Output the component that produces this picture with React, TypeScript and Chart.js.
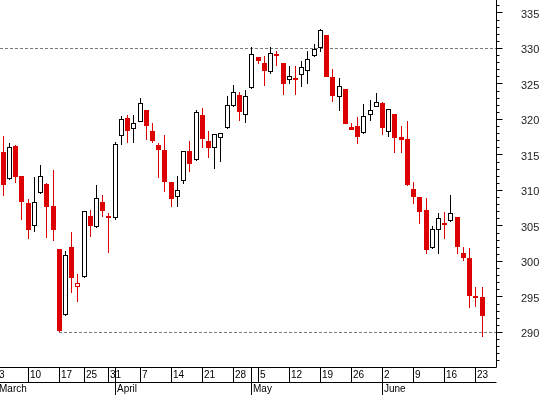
import { useEffect, useRef } from "react";
import { Chart, registerables } from "chart.js";

Chart.register(...registerables);

// ---- data ----
const dates = [
  "2008-03-03", "2008-03-04", "2008-03-05", "2008-03-06", "2008-03-07",
  "2008-03-10", "2008-03-11", "2008-03-12", "2008-03-13", "2008-03-14",
  "2008-03-17", "2008-03-18", "2008-03-19", "2008-03-20",
  "2008-03-25", "2008-03-26", "2008-03-27", "2008-03-28",
  "2008-03-31", "2008-04-01", "2008-04-02", "2008-04-03", "2008-04-04",
  "2008-04-07", "2008-04-08", "2008-04-09", "2008-04-10", "2008-04-11",
  "2008-04-14", "2008-04-15", "2008-04-16", "2008-04-17", "2008-04-18",
  "2008-04-21", "2008-04-22", "2008-04-23", "2008-04-24", "2008-04-25",
  "2008-04-28", "2008-04-29", "2008-04-30", "2008-05-02",
  "2008-05-05", "2008-05-06", "2008-05-07", "2008-05-08", "2008-05-09",
  "2008-05-12", "2008-05-13", "2008-05-14", "2008-05-15", "2008-05-16",
  "2008-05-19", "2008-05-20", "2008-05-21", "2008-05-22", "2008-05-23",
  "2008-05-26", "2008-05-27", "2008-05-28", "2008-05-29", "2008-05-30",
  "2008-06-02", "2008-06-03", "2008-06-04", "2008-06-05", "2008-06-06",
  "2008-06-09", "2008-06-10", "2008-06-11", "2008-06-12", "2008-06-13",
  "2008-06-16", "2008-06-17", "2008-06-18", "2008-06-19", "2008-06-20",
  "2008-06-23", "2008-06-24",
];

const openPrices: (number | null)[] = [
  null,
  315.46, 311.58, 316.27, 312.04, 308.24, 304.96, 309.61, 310.92, 307.82, 301.76,
  292.42, 302.04, 296.37, 297.77, 306.41, 304.82, 308.38, 306.41, 306.17, 317.63,
  320.21, 318.62, 319.65, 321.34, 318.38, 316.41, 315.7, 311.15, 309.08, 311.34,
  315.56, 314.25, 320.63, 316.97, 315.94, 317.39, 318.76, 321.86, 323.45, 320.63,
  324.39, 328.8, 327.96, 326.73, 328.99, 327.96, 325.52, 325.85, 326.23, 326.79,
  328.9, 330.03, 331.9, 326.03, 323.13, 324.3, 318.94, 319.08, 318.06, 320.59,
  321.72, 322.32, 318.2, 320.77, 317.54, 317.25, 310.21, 309.08, 307.25, 301.94,
  304.39, 305.38, 305.66, 306.27, 301.2, 300.49, 295.14, 295.0,
];

const highPrices: (number | null)[] = [
  null,
  317.68, 316.73, 316.41, 312.1, 308.8, 311.9, 313.59, 311.0, 312.89, 301.8,
  301.48, 304.15, 298.24, 307.1, 307.25, 310.77, 309.37, 306.79, 316.79, 320.54,
  320.63, 320.63, 323.03, 321.4, 319.51, 316.65, 317.82, 311.2, 312.04, 315.6,
  316.97, 321.34, 321.66, 318.38, 317.95, 318.15, 323.31, 324.86, 323.87, 324.15,
  330.17, 328.85, 328.94, 330.17, 329.61, 328.0, 327.54, 327.54, 328.24, 329.61,
  330.63, 332.68, 331.95, 327.11, 325.8, 324.35, 319.51, 320.35, 322.18, 322.75,
  323.73, 322.46, 321.5, 320.8, 319.08, 319.79, 311.2, 309.1, 308.94, 305.0,
  306.83, 306.97, 309.37, 306.3, 302.1, 301.9, 296.41, 296.41,
];

const lowPrices: (number | null)[] = [
  null,
  309.27, 311.5, 311.1, 305.85, 303.21, 304.2, 309.5, 303.35, 302.93, 290.0,
  292.3, 295.61, 294.34, 297.7, 303.49, 304.75, 306.31, 301.24, 305.8, 316.45,
  316.73, 316.73, 319.6, 317.11, 316.65, 311.72, 309.75, 307.72, 307.72, 310.96,
  312.65, 314.2, 316.03, 314.62, 312.99, 313.97, 318.7, 321.8, 319.83, 319.46,
  324.3, 327.77, 324.76, 326.45, 327.54, 323.49, 325.04, 323.49, 324.62, 325.04,
  328.85, 329.46, 326.0, 322.51, 321.24, 319.4, 318.5, 316.59, 317.92, 319.83,
  321.7, 317.86, 317.58, 315.32, 315.32, 310.63, 308.14, 305.32, 301.1, 301.8,
  301.1, 303.21, 305.6, 301.1, 300.11, 293.49, 293.59, 289.41,
];

const closePrices: (number | null)[] = [
  null,
  310.82, 316.08, 311.94, 308.42, 304.48, 308.34, 312.0, 307.72, 304.48, 290.2,
  300.87, 297.72, 296.97, 307.07, 305.0, 308.9, 307.15, 306.17, 316.51, 320.07,
  318.42, 319.51, 322.28, 319.13, 317.01, 315.75, 311.24, 308.85, 310.03, 315.52,
  313.77, 321.01, 317.3, 316.03, 317.92, 318.1, 322.0, 323.94, 320.99, 323.27,
  329.23, 328.28, 326.83, 329.32, 329.23, 325.04, 326.08, 325.75, 327.35, 328.48,
  329.89, 332.56, 326.03, 323.35, 324.68, 319.41, 318.56, 317.58, 320.49, 321.3,
  322.42, 318.85, 321.44, 317.44, 317.15, 310.77, 309.13, 307.01, 301.66, 304.54,
  306.08, 305.28, 306.79, 302.08, 300.54, 295.18, 294.9, 292.37,
];

const yTickLabels = [290, 295, 300, 305, 310, 315, 320, 325, 330, 335];
const monthNames = [
  "January", "February", "March", "April", "May", "June",
  "July", "August", "September", "October", "November", "December",
];
const highLevel = 330;
const lowLevel = 290;

// ---- styles ----
const DOWN = "#dd0000";
const UP = "#000000";
const FONT = '"Liberation Sans", Arial, sans-serif';

// ---- derived ----
const validIdx = dates.map((_, i) => i).filter((i) => openPrices[i] != null);

function candleColor(i: number): string {
  const o = openPrices[i] as number;
  const c = closePrices[i] as number;
  if (c < o) return DOWN;
  let p = i - 1;
  while (p >= 0 && closePrices[p] == null) p--;
  if (p >= 0 && c < (closePrices[p] as number)) return DOWN;
  return UP;
}

const parsedDates = dates.map((d) => {
  const [y, m, dd] = d.split("-").map(Number);
  return new Date(y, m - 1, dd);
});

const weekStarts: number[] = [];
const monthStarts: number[] = [];
parsedDates.forEach((d, i) => {
  if (i === 0) {
    weekStarts.push(i);
    monthStarts.push(i);
    return;
  }
  const prev = parsedDates[i - 1];
  if (d.getDay() <= prev.getDay() || d.getTime() - prev.getTime() >= 7 * 86400000) weekStarts.push(i);
  if (d.getMonth() !== prev.getMonth()) monthStarts.push(i);
});

const lowLevelStart = validIdx.find((i) => (lowPrices[i] as number) <= lowLevel + 0.5) ?? validIdx[0];

const snapPlugin = {
  id: "snapCandles",
  afterDatasetsUpdate(chart: any) {
    chart.data.datasets.forEach((_: any, di: number) => {
      const meta = chart.getDatasetMeta(di);
      meta.data.forEach((el: any) => {
        el.x = Math.floor(el.x) + 0.5;
        const top = Math.round(Math.min(el.y, el.base));
        let bottom = Math.round(Math.max(el.y, el.base));
        if (bottom - top < 2) bottom = top + 2;
        el.y = top;
        el.base = bottom;
      });
    });
  },
};

const axesPlugin = {
  id: "ohlcAxes",
  beforeDatasetsDraw(chart: any) {
    const { ctx, chartArea, scales } = chart;
    const xs = scales.x;
    const ys = scales.y;
    ctx.save();
    ctx.strokeStyle = "#7a7a7a";
    ctx.lineWidth = 1;
    ctx.setLineDash([3, 2]);
    const yh = Math.floor(ys.getPixelForValue(highLevel)) + 0.5;
    ctx.beginPath();
    ctx.moveTo(chartArea.left, yh);
    ctx.lineTo(chartArea.right, yh);
    ctx.stroke();
    const yl = Math.floor(ys.getPixelForValue(lowLevel)) + 0.5;
    ctx.beginPath();
    ctx.moveTo(Math.floor(xs.getPixelForValue(lowLevelStart)), yl);
    ctx.lineTo(chartArea.right, yl);
    ctx.stroke();
    ctx.restore();
  },
  afterDraw(chart: any) {
    const { ctx, chartArea, scales } = chart;
    const xs = scales.x;
    const ys = scales.y;
    const right = Math.round(chartArea.right) + 0.5;
    const bottom = Math.round(chartArea.bottom);
    const row1 = bottom + 15;
    const canvasH = chart.height;
    ctx.save();
    ctx.strokeStyle = "#000";
    ctx.lineWidth = 1;
    ctx.setLineDash([]);
    // y axis line
    ctx.beginPath();
    ctx.moveTo(right, chartArea.top);
    ctx.lineTo(right, bottom + 0.5);
    ctx.stroke();
    // y axis ticks
    ctx.beginPath();
    for (let v = Math.ceil(ys.min); v <= Math.floor(ys.max); v++) {
      const y = Math.floor(ys.getPixelForValue(v)) + 0.5;
      const len = v % 5 === 0 ? 6 : 3;
      ctx.moveTo(right, y);
      ctx.lineTo(right + len, y);
    }
    ctx.stroke();
    // y labels
    ctx.fillStyle = "#222";
    ctx.font = "11px " + FONT;
    ctx.textAlign = "left";
    ctx.textBaseline = "middle";
    yTickLabels.forEach((v) => {
      const y = ys.getPixelForValue(v) + 1.5;
      ctx.fillText(String(v), chartArea.right + 25, y);
    });
    // x axis row lines
    ctx.beginPath();
    ctx.moveTo(0, bottom + 0.5);
    ctx.lineTo(right, bottom + 0.5);
    ctx.moveTo(0, row1 + 0.5);
    ctx.lineTo(right, row1 + 0.5);
    ctx.stroke();
    // week separators + labels
    ctx.fillStyle = "#000";
    ctx.font = "10px " + FONT;
    ctx.beginPath();
    weekStarts.forEach((i) => {
      const x = Math.floor(xs.getPixelForValue(i)) + 0.5;
      ctx.moveTo(x, bottom);
      ctx.lineTo(x, row1);
    });
    monthStarts.forEach((i) => {
      const x = Math.floor(xs.getPixelForValue(i)) + 0.5;
      ctx.moveTo(x, bottom);
      ctx.lineTo(x, canvasH);
    });
    ctx.stroke();
    weekStarts.forEach((i) => {
      const x = Math.floor(xs.getPixelForValue(i)) + 2;
      ctx.fillText(String(parsedDates[i].getDate()), x, bottom + 8);
    });
    monthStarts.forEach((i) => {
      const x = Math.floor(xs.getPixelForValue(i)) + 2;
      ctx.fillText(monthNames[parsedDates[i].getMonth()], x, row1 + 7);
    });
    ctx.restore();
  },
};

export default function App() {
  const ref = useRef<HTMLCanvasElement>(null);
  useEffect(() => {
    document.body.style.margin = "0";
    const canvas = ref.current;
    if (!canvas) return;
    const colors = validIdx.map(candleColor);
    const chart = new Chart(canvas, {
      type: "bar",
      data: {
        datasets: [
          {
            label: "body",
            data: validIdx.map((i) => ({ x: i, y: [openPrices[i] as number, closePrices[i] as number] })) as any,
            backgroundColor: validIdx.map((i) =>
              (closePrices[i] as number) < (openPrices[i] as number) ? DOWN : "#ffffff"
            ),
            borderColor: colors,
            borderWidth: 1,
            borderSkipped: false,
            barThickness: 5,
            grouped: false,
            inflateAmount: 0,
            order: 0,
          } as any,
          {
            label: "wick",
            data: validIdx.map((i) => ({ x: i, y: [lowPrices[i] as number, highPrices[i] as number] })) as any,
            backgroundColor: colors,
            borderWidth: 0,
            barThickness: 1,
            grouped: false,
            inflateAmount: 0,
            order: 1,
          } as any,
        ],
      },
      options: {
        responsive: false,
        animation: false,
        devicePixelRatio: 1,
        layout: { padding: { left: 0, top: 0, right: 47, bottom: 28 } },
        plugins: { legend: { display: false }, tooltip: { enabled: false } },
        scales: {
          x: { type: "linear", min: 0.469, max: 80.25, display: false, offset: false },
          y: { type: "linear", min: 285.14, max: 336.83, display: false },
        },
      } as any,
      plugins: [snapPlugin, axesPlugin],
    });
    return () => chart.destroy();
  }, []);
  return (
    <div style={{ width: 543, height: 395 }}>
      <canvas ref={ref} width={543} height={395} style={{ display: "block", width: 543, height: 395 }} />
    </div>
  );
}
